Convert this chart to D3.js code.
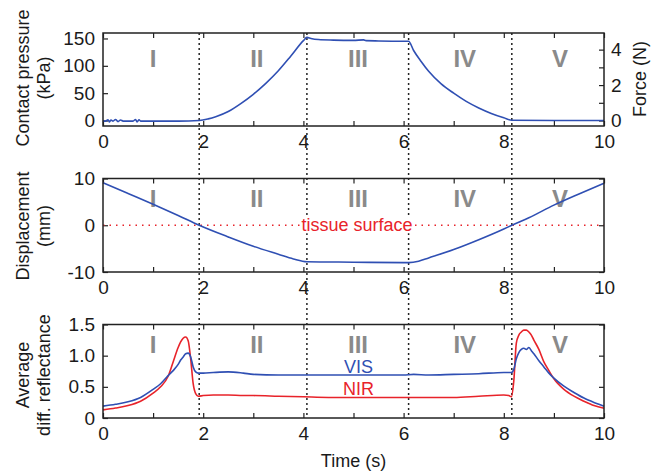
<!DOCTYPE html>
<html>
<head>
<meta charset="utf-8">
<script src="https://cdn.jsdelivr.net/npm/d3@7"></script>
<style>
  body { margin: 0; background: #fff; }
  svg text { font-family: "Liberation Sans", Arial, sans-serif; fill: #1a1a1a; }
</style>
</head>
<body>
<svg id="chart" width="656" height="474"></svg>
<script>
// time axis
const timeTicks = [0, 1, 2, 3, 4, 5, 6, 7, 8, 9, 10];
const phaseBounds = [1.92, 4.07, 6.1, 8.16];
const phaseNames = ["I", "II", "III", "IV", "V"];
const phaseLabelT = [1.0, 3.07, 5.09, 7.22, 9.12];

// contact pressure (kPa) / force (N)
const pressureT = [0, 0.05, 0.1, 0.13, 0.16, 0.2, 0.25, 0.3, 0.35, 0.4, 0.5, 0.6, 0.65, 0.68, 0.72, 0.75, 0.8, 1.0, 1.5, 1.92,
  2.1, 2.25, 2.5, 2.75, 3.0, 3.25, 3.5, 3.75, 4.0, 4.07, 4.15, 4.3, 4.6, 5.0, 5.2, 5.25, 5.5, 6.0, 6.1,
  6.2, 6.35, 6.5, 6.75, 7.0, 7.25, 7.5, 7.75, 8.0, 8.16, 9.0, 10];
const pressureKPa = [-1, -1, 1.5, -2.5, 1, -1, 2, -2, 1, -1, -1, -1, 2, -2.5, 1.5, -1, -1, -1, -1, 0,
  3, 7, 16.5, 31, 48, 68, 91, 118, 146, 152, 150, 148, 147, 146.5, 147.5, 146, 145.5, 145, 145,
  128, 108, 90, 67, 50, 35, 23, 13, 5, 0.5, 0, 0];
const pressureTicks = [0, 50, 100, 150];
const forceTicks = [0, 1, 2, 3, 4];
const kPaPerNewton = 32.4;

// displacement (mm)
const dispT = [0, 0.5, 1, 1.5, 1.92, 2.5, 3, 3.5, 3.8, 4.07, 5, 6, 6.1, 6.3, 6.5, 7, 7.5, 8, 8.16, 8.5, 9, 9.5, 10];
const dispMM = [9.1, 6.8, 4.5, 2.1, 0, -2.5, -4.5, -6.2, -7.2, -7.8, -7.9, -8.0, -8.0, -7.7, -7.0, -5.2, -3.1, -0.8, 0, 1.6, 4.3, 6.7, 9.0];
const dispTicks = [-10, 0, 10];

// average diffuse reflectance
const reflT = [0, 0.25, 0.5, 0.75, 1.0, 1.15, 1.3, 1.4, 1.5, 1.55, 1.6, 1.65, 1.7, 1.75, 1.8, 1.85, 1.9, 2.0, 2.2, 2.5,
  2.8, 3.0, 3.5, 4.0, 4.5, 5.0, 5.5, 6.0, 6.2, 6.5, 7.0, 7.5, 8.0, 8.1, 8.15, 8.2, 8.25, 8.3, 8.35, 8.4,
  8.45, 8.5, 8.55, 8.6, 8.7, 8.8, 8.9, 9.0, 9.2, 9.4, 9.6, 9.8, 10];
const visRefl = [0.19, 0.22, 0.26, 0.33, 0.46, 0.55, 0.68, 0.76, 0.86, 0.93, 0.98, 1.03, 1.04, 0.98, 0.82, 0.74, 0.72, 0.72, 0.73, 0.74,
  0.72, 0.70, 0.69, 0.69, 0.69, 0.69, 0.69, 0.69, 0.70, 0.69, 0.70, 0.71, 0.73, 0.73, 0.73, 0.78, 0.95, 1.05, 1.10, 1.12,
  1.10, 1.13, 1.08, 1.03, 0.92, 0.82, 0.72, 0.64, 0.51, 0.41, 0.32, 0.25, 0.19];
const nirRefl = [0.13, 0.16, 0.20, 0.27, 0.40, 0.50, 0.67, 0.90, 1.13, 1.22, 1.28, 1.30, 1.24, 0.95, 0.55, 0.39, 0.35, 0.36, 0.37, 0.37,
  0.36, 0.36, 0.35, 0.34, 0.33, 0.33, 0.33, 0.33, 0.33, 0.33, 0.33, 0.35, 0.37, 0.36, 0.34, 0.6, 1.2, 1.33, 1.38, 1.41,
  1.41, 1.38, 1.33, 1.25, 1.10, 0.90, 0.76, 0.63, 0.46, 0.35, 0.27, 0.20, 0.155];
const reflTicks = [0, 0.5, 1.0, 1.5];

const blue = "#2f4fb3";
const red = "#e8232a";
const boxColor = "#222";

const svg = d3.select("#chart");
const left = 103, right = 604;
const x = d3.scaleLinear().domain([0, 10]).range([left, right]);

const panels = [
  { top: 33, bottom: 126, domain: [-10, 160], ticks: pressureTicks, fmt: d => d,
    labels: ["Contact pressure", "(kPa)"], labelY: 78 },
  { top: 178.5, bottom: 272, domain: [-10, 10], ticks: dispTicks, fmt: d => String(d),
    labels: ["Displacement", "(mm)"], labelY: 226 },
  { top: 324.5, bottom: 418, domain: [0, 1.5], ticks: reflTicks, fmt: d => d === 0 ? "0" : d.toFixed(1),
    labels: ["Average", "diff. reflectance"], labelY: 375 }
];

panels.forEach(p => {
  p.y = d3.scaleLinear().domain(p.domain).range([p.bottom, p.top]);
});

function styleAxis(g) {
  g.select(".domain").remove();
  g.selectAll(".tick line").attr("stroke", boxColor).attr("stroke-width", 1.2);
  g.selectAll(".tick text").attr("font-size", 19).attr("font-family", "Liberation Sans, Arial, sans-serif");
}

const line = (y) => d3.line().x(d => x(d[0])).y(d => y(d[1])).curve(d3.curveMonotoneX);

panels.forEach((p, i) => {
  const g = svg.append("g");

  // bottom & top x ticks (inward)
  g.append("g").attr("transform", `translate(0,${p.bottom})`)
    .call(d3.axisBottom(x).tickValues(timeTicks).tickSizeInner(-5).tickSizeOuter(0).tickPadding(9)
      .tickFormat(d => d % 2 === 0 ? d : ""))
    .call(styleAxis);
  g.append("g").attr("transform", `translate(0,${p.top})`)
    .call(d3.axisTop(x).tickValues(timeTicks).tickSizeInner(-5).tickSizeOuter(0).tickFormat(""))
    .call(styleAxis);

  // left y ticks
  g.append("g").attr("transform", `translate(${left},0)`)
    .call(d3.axisLeft(p.y).tickValues(p.ticks).tickSizeInner(-5).tickSizeOuter(0).tickPadding(8).tickFormat(p.fmt))
    .call(styleAxis);

  // right y ticks
  if (i === 0) {
    const yForce = d3.scaleLinear().domain(p.domain.map(v => v / kPaPerNewton)).range([p.bottom, p.top]);
    g.append("g").attr("transform", `translate(${right},0)`)
      .call(d3.axisRight(yForce).tickValues(forceTicks).tickSizeInner(-5).tickSizeOuter(0).tickPadding(7)
        .tickFormat(d => d % 2 === 0 ? d : ""))
      .call(styleAxis);
  } else {
    g.append("g").attr("transform", `translate(${right},0)`)
      .call(d3.axisRight(p.y).tickValues(p.ticks).tickSizeInner(-5).tickSizeOuter(0).tickFormat(""))
      .call(styleAxis);
  }

  // y labels
  p.labels.forEach((txt, k) => {
    svg.append("text")
      .attr("transform", `translate(${k === 0 ? 23 : 44},${p.labelY}) rotate(-90)`)
      .attr("text-anchor", "middle")
      .attr("dominant-baseline", "central")
      .attr("font-size", 18)
      .text(txt);
  });
});

// force label on the right
svg.append("text")
  .attr("transform", `translate(640,79) rotate(-90)`)
  .attr("text-anchor", "middle")
  .attr("dominant-baseline", "central")
  .attr("font-size", 18)
  .text("Force (N)");

// tissue surface reference line
const pMid = panels[1];
svg.append("line")
  .attr("x1", x(0)).attr("x2", x(10))
  .attr("y1", pMid.y(0)).attr("y2", pMid.y(0))
  .attr("stroke", red).attr("stroke-width", 1.5)
  .attr("stroke-dasharray", "1.5,5");

// phase boundaries
svg.selectAll(".phase")
  .data(phaseBounds)
  .join("line")
  .attr("class", "phase")
  .attr("x1", d => x(d)).attr("x2", d => x(d))
  .attr("y1", panels[0].top).attr("y2", panels[2].bottom)
  .attr("stroke", boxColor).attr("stroke-width", 1.5)
  .attr("stroke-dasharray", "2,3");

// tissue surface text with white background
const tsText = svg.append("text")
  .attr("x", x(5.07)).attr("y", pMid.y(0))
  .attr("text-anchor", "middle")
  .attr("dominant-baseline", "central")
  .attr("font-size", 18)
  .style("fill", red)
  .text("tissue surface");
const bb = tsText.node().getBBox();
svg.append("rect")
  .attr("x", bb.x - 1).attr("y", bb.y + 2)
  .attr("width", bb.width + 2).attr("height", bb.height - 4)
  .attr("fill", "#fff");
tsText.raise();

// phase numerals
panels.forEach((p, i) => {
  svg.append("g").selectAll("text")
    .data(phaseNames)
    .join("text")
    .attr("x", (d, k) => x(phaseLabelT[k]))
    .attr("y", p.top + (i === 0 ? 25 : 20))
    .attr("text-anchor", "middle")
    .attr("dominant-baseline", "central")
    .attr("font-size", 24)
    .attr("font-weight", "bold")
    .style("fill", "#8a8a8a")
    .text(d => d);
});

// curves
svg.append("path")
  .datum(d3.zip(pressureT, pressureKPa))
  .attr("d", line(panels[0].y))
  .attr("fill", "none").attr("stroke", blue).attr("stroke-width", 1.6);

svg.append("path")
  .datum(d3.zip(dispT, dispMM))
  .attr("d", line(panels[1].y))
  .attr("fill", "none").attr("stroke", blue).attr("stroke-width", 1.6);

svg.append("path")
  .datum(d3.zip(reflT, nirRefl))
  .attr("d", line(panels[2].y))
  .attr("fill", "none").attr("stroke", red).attr("stroke-width", 1.6);

svg.append("path")
  .datum(d3.zip(reflT, visRefl))
  .attr("d", line(panels[2].y))
  .attr("fill", "none").attr("stroke", blue).attr("stroke-width", 1.6);

// series labels
svg.append("text").attr("x", x(5.1)).attr("y", 367)
  .attr("text-anchor", "middle").attr("dominant-baseline", "central")
  .attr("font-size", 18).style("fill", blue).text("VIS");
svg.append("text").attr("x", x(5.1)).attr("y", 389)
  .attr("text-anchor", "middle").attr("dominant-baseline", "central")
  .attr("font-size", 18).style("fill", red).text("NIR");

// panel boxes
panels.forEach(p => {
  svg.append("rect")
    .attr("x", left).attr("y", p.top)
    .attr("width", right - left).attr("height", p.bottom - p.top)
    .attr("fill", "none").attr("stroke", boxColor).attr("stroke-width", 1.5);
});

// x label
svg.append("text")
  .attr("x", (left + right) / 2).attr("y", 467)
  .attr("text-anchor", "middle")
  .attr("font-size", 18)
  .text("Time (s)");
</script>
</body>
</html>
